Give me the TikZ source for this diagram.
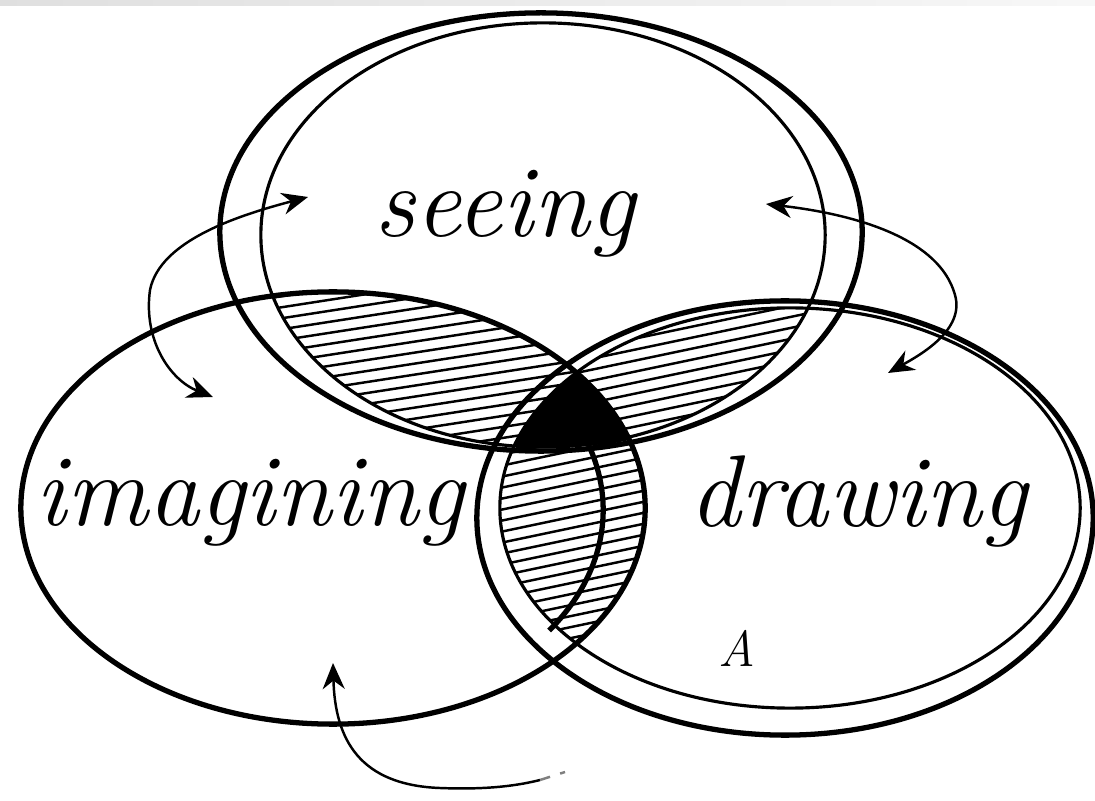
\documentclass[tikz,border=0pt]{standalone}
\usetikzlibrary{arrows.meta}

\newcommand\seeingout{(541,232) ellipse [x radius=3.21cm, y radius=2.19cm]}
\newcommand\seeinginn{(543,235) ellipse [x radius=2.82cm, y radius=2.12cm]}
\newcommand\imagpath{(333,508) ellipse [x radius=3.12cm, y radius=2.16cm]}
\newcommand\drawout{(785,518) ellipse [x radius=3.08cm, y radius=2.17cm]}
\newcommand\drawinn{(790,508) ellipse [x radius=2.90cm, y radius=2.00cm]}
\newcommand\hatchlines[1]{%
  \foreach \k in {0,...,75}
    \draw[hatchline] (0,230+11*\k) -- (1095,230+11*\k-#1);}

\tikzset{
  ring/.style={line width=1.5pt},
  thinring/.style={line width=0.9pt},
  hatchline/.style={line width=0.7pt},
  word/.style={font=\fontsize{29}{34}\selectfont\itshape, inner sep=0pt},
  swing/.style={line width=0.7pt, >={Stealth[length=2.6mm,width=2.2mm]}}
}

\begin{document}
\begin{tikzpicture}[x=0.01cm,y=-0.01cm]
\useasboundingbox (0,0) rectangle (1095,801);
\shade[left color=gray!25,right color=gray!6] (0,0) rectangle (1095,6);

% seeing and imagining
\begin{scope}
\clip \seeinginn;
\clip \imagpath;
\hatchlines{170}
\end{scope}

% seeing and drawing
\begin{scope}
\clip \seeinginn;
\clip \drawinn;
\hatchlines{230}
\end{scope}

% imagining and drawing
\begin{scope}
\clip \imagpath;
\clip \drawinn;
\hatchlines{230}
\end{scope}

% all three
\begin{scope}
\clip \seeinginn;
\clip \imagpath;
\fill \drawinn;
\end{scope}

% the three rings
\draw[ring] \seeingout;
\draw[thinring] \seeinginn;
\draw[ring] \imagpath;
\draw[ring] (320,510) ++(-36:2.83cm and 2.05cm)
  arc[start angle=-36, end angle=22, x radius=2.83cm, y radius=2.05cm];
\draw[ring] \drawout;
\draw[thinring] \drawinn;

% words
\node[word, anchor=base] (seeing) at (505,237) {seeing};
\node[word, anchor=base] (imagining) at (250,525) {imagining};
\node[word, anchor=base] (drawing) at (858,527) {drawing};
\node[font=\Large\itshape, inner sep=0pt] (mark) at (737,648) {A};

% arrows
\coordinate (s1) at (308,197);
\coordinate (i1) at (213,397);
\coordinate (s2) at (766,204);
\coordinate (d2) at (888,373);
\coordinate (i3) at (333,663);
\coordinate (d3) at (540,780);
\coordinate (d3end) at (565,772);

\draw[swing, <->] (s1) .. controls (240,215) and (160,240) .. (150,290)
  .. controls (143,340) and (170,380) .. (i1);
\draw[swing, <->] (s2) .. controls (860,215) and (940,240) .. (955,295)
  .. controls (965,330) and (920,355) .. (d2);
\draw[swing, <-] (i3) .. controls (335,740) and (360,785) .. (440,788)
  .. controls (490,790) and (520,785) .. (d3);
\draw[swing, gray, dashed] (d3) -- (d3end);

\end{tikzpicture}
\end{document}
